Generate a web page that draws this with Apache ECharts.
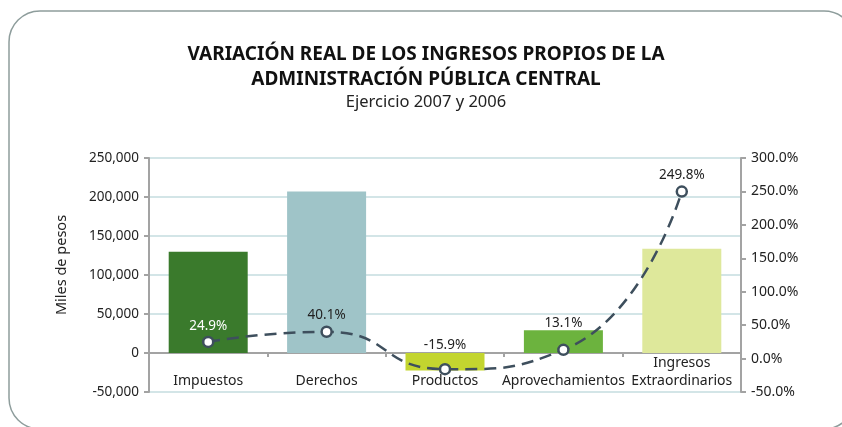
<!DOCTYPE html>
<html>
<head>
<meta charset="utf-8">
<script src="https://cdn.jsdelivr.net/npm/echarts@6/dist/echarts.min.js"></script>
<style>
  html, body { margin: 0; padding: 0; background: #fff; }
  #main { width: 842px; height: 427px; }
</style>
</head>
<body>
<div id="main"></div>
<script>
// datos del gráfico
var categorias = ['Impuestos', 'Derechos', 'Productos', 'Aprovechamientos', 'Ingresos\nExtraordinarios'];
var milesDePesos = [129800, 207000, -22300, 29300, 133600];
var variacionReal = [24.9, 40.1, -15.9, 13.1, 249.8];
var coloresBarras = ['#3a7a2c', '#9fc4c8', '#c3d52f', '#6cb33e', '#dee89b'];

var fuente = 'Noto Sans';
var colorLinea = '#3e4f5d';
// desplazamiento de algunas etiquetas de la línea (como en el original)
var desplazamientoEtiqueta = [0, 0, -8, -10, 0];

var option = {
  animation: false,
  textStyle: { fontFamily: fuente },
  title: {
    text: 'VARIACIÓN REAL DE LOS INGRESOS PROPIOS DE LA\nADMINISTRACIÓN PÚBLICA CENTRAL',
    subtext: 'Ejercicio 2007 y 2006',
    left: 421,
    top: 37,
    itemGap: 2,
    textAlign: 'center',
    textStyle: { fontFamily: fuente, fontSize: 19, fontWeight: 'bold', color: '#111', lineHeight: 25 },
    subtextStyle: { fontFamily: fuente, fontSize: 16.5, color: '#222' }
  },
  graphic: [{
    type: 'rect',
    shape: { x: 9, y: 11, width: 846, height: 418, r: 31 },
    style: { fill: 'none', stroke: '#8e9d9c', lineWidth: 1.5 },
    silent: true
  }],
  grid: { left: 149, right: 101, top: 158, bottom: 35 },
  xAxis: {
    type: 'category',
    data: categorias,
    axisLine: { onZero: true, lineStyle: { color: '#a3a3a3', width: 2 } },
    axisTick: { show: true, length: 4, lineStyle: { color: '#a3a3a3', width: 2 } },
    axisLabel: { color: '#222', fontSize: 14, interval: 0, margin: -2, verticalAlign: 'bottom', lineHeight: 18 }
  },
  yAxis: [{
    type: 'value',
    min: -50000,
    max: 250000,
    interval: 50000,
    name: 'Miles de pesos',
    nameLocation: 'middle',
    nameRotate: 90,
    nameGap: 80,
    nameTextStyle: { color: '#222', fontSize: 14.5, padding: [0, 0, 0, 20] },
    axisLine: { show: true, lineStyle: { color: '#a3a3a3', width: 2 } },
    axisTick: { show: true, length: 5, lineStyle: { color: '#a3a3a3', width: 2 } },
    axisLabel: {
      color: '#222', fontSize: 13.5, margin: 10,
      formatter: function (v) { return v.toLocaleString('en-US'); }
    },
    splitLine: { lineStyle: { color: '#d3e5e7', width: 2 } }
  }, {
    type: 'value',
    min: -50,
    max: 300,
    interval: 50,
    position: 'right',
    axisLine: { show: true, lineStyle: { color: '#a3a3a3', width: 2 } },
    axisTick: { show: true, length: 5, lineStyle: { color: '#a3a3a3', width: 2 } },
    axisLabel: {
      color: '#222', fontSize: 14, margin: 10,
      formatter: function (v) { return v.toFixed(1) + '%'; }
    },
    splitLine: { show: false }
  }],
  series: [{
    name: 'Miles de pesos',
    type: 'bar',
    barWidth: 79,
    data: milesDePesos.map(function (v, i) {
      return { value: v, itemStyle: { color: coloresBarras[i] } };
    })
  }, {
    name: 'Variación real',
    type: 'line',
    yAxisIndex: 1,
    smooth: 0.55,
    symbol: 'circle',
    symbolSize: 10,
    lineStyle: { color: colorLinea, width: 2.5, type: [12, 7] },
    itemStyle: { color: '#fff', borderColor: colorLinea, borderWidth: 2.5 },
    label: {
      show: true,
      position: 'top',
      distance: 3,
      color: '#222',
      fontSize: 13.5,
      formatter: function (p) { return p.value.toFixed(1) + '%'; }
    },
    data: variacionReal.map(function (v, i) {
      return {
        value: v,
        label: { color: i === 0 ? '#fff' : '#222', offset: [0, desplazamientoEtiqueta[i]] }
      };
    })
  }]
};

var myChart = echarts.init(document.getElementById('main'));
myChart.setOption(option);
</script>
</body>
</html>
